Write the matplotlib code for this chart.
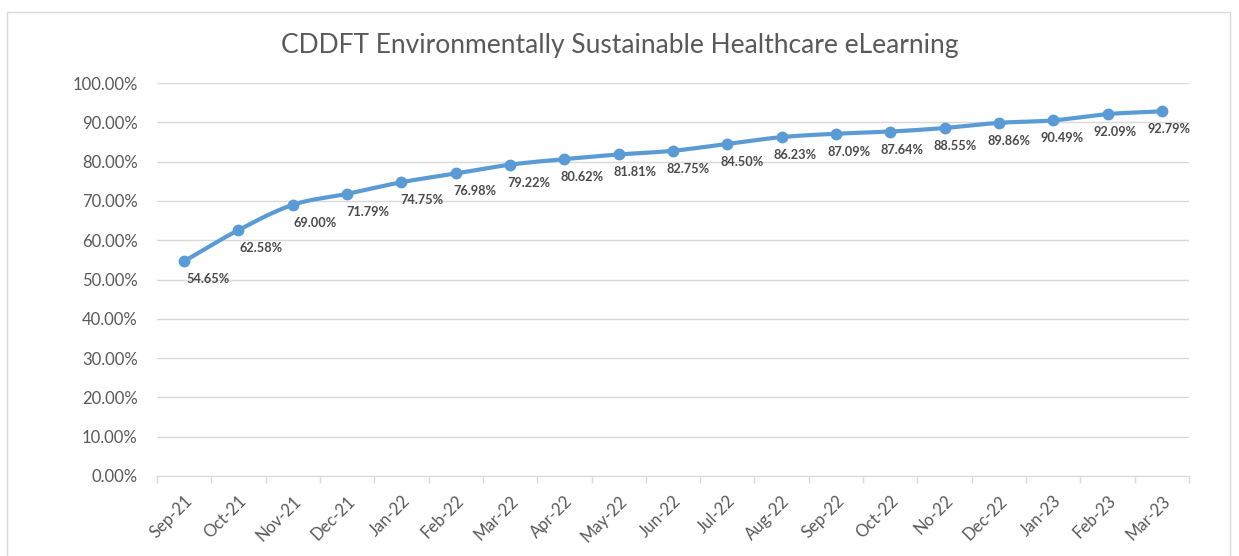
import matplotlib
matplotlib.use("Agg")
import matplotlib.pyplot as plt
import matplotlib.patches as patches
import numpy as np

# chart data
months = ["Sep-21", "Oct-21", "Nov-21", "Dec-21", "Jan-22", "Feb-22", "Mar-22",
          "Apr-22", "May-22", "Jun-22", "Jul-22", "Aug-22", "Sep-22", "Oct-22",
          "No-22", "Dec-22", "Jan-23", "Feb-23", "Mar-23"]
completion = [54.65, 62.58, 69.00, 71.79, 74.75, 76.98, 79.22, 80.62, 81.81,
              82.75, 84.50, 86.23, 87.09, 87.64, 88.55, 89.86, 90.49, 92.09, 92.79]
y_ticks = [0, 10, 20, 30, 40, 50, 60, 70, 80, 90, 100]
title = "CDDFT Environmentally Sustainable Healthcare eLearning"

line_color = "#5B9BD5"
text_color = "#595959"
grid_color = "#D9D9D9"

plt.rcParams["font.family"] = ["Lato", "DejaVu Sans"]


def smooth(xs, ys, steps=24):
    # catmull-rom through the points, close to excel's smoothed line
    xs = np.asarray(xs, float)
    ys = np.asarray(ys, float)
    px = np.concatenate([[2 * xs[0] - xs[1]], xs, [2 * xs[-1] - xs[-2]]])
    py = np.concatenate([[2 * ys[0] - ys[1]], ys, [2 * ys[-1] - ys[-2]]])
    out_x, out_y = [], []
    t = np.linspace(0, 1, steps, endpoint=False)
    for i in range(1, len(px) - 2):
        for arr, out in ((px, out_x), (py, out_y)):
            p0, p1, p2, p3 = arr[i - 1], arr[i], arr[i + 1], arr[i + 2]
            out.extend(0.5 * ((2 * p1) + (-p0 + p2) * t
                              + (2 * p0 - 5 * p1 + 4 * p2 - p3) * t ** 2
                              + (-p0 + 3 * p1 - 3 * p2 + p3) * t ** 3))
    out_x.append(xs[-1])
    out_y.append(ys[-1])
    return np.array(out_x), np.array(out_y)


fig = plt.figure(figsize=(12.39, 5.56), dpi=100)
fig.patch.set_facecolor("white")

# chart border like the excel chart area
fig.add_artist(patches.Rectangle((7 / 1239, -0.05), 1223 / 1239, 1 - 12 / 556 + 0.05,
                                 transform=fig.transFigure, fill=False,
                                 edgecolor=grid_color, linewidth=1))

ax = fig.add_axes([157 / 1239, 1 - 476 / 556, 1032 / 1239, 393 / 556])

x = np.arange(len(months))
sx, sy = smooth(x, completion)
ax.plot(sx, sy, color=line_color, linewidth=3, solid_capstyle="round", zorder=3)
ax.plot(x, completion, "o", color=line_color, markersize=7.5, zorder=4)

n = len(months)
for i, v in enumerate(completion):
    dx = 24 - 17 * i / (n - 1)
    ax.annotate(f"{v:.2f}%", (i, v), xytext=(dx, -12), textcoords="offset pixels",
                ha="center", va="top", fontsize=9.2, fontweight="bold",
                color="#4a4a4a", zorder=5)

ax.set_xlim(-0.5, n - 0.5)
ax.set_ylim(0, 100)
ax.set_yticks(y_ticks)
ax.set_yticklabels([f"{v:.2f}%" for v in y_ticks], color=text_color, fontsize=12)
ax.yaxis.grid(True, color=grid_color, linewidth=1)
ax.set_axisbelow(True)

# category axis: labels centred, tick marks between categories
ax.set_xticks(x)
ax.set_xticklabels(months, rotation=45, ha="right", rotation_mode="anchor",
                   color=text_color, fontsize=12)
ax.set_xticks(np.arange(-0.5, n, 1), minor=True)
ax.tick_params(axis="x", which="major", length=0, pad=12)
ax.tick_params(axis="x", which="minor", length=5, color=grid_color, width=1)
ax.tick_params(axis="y", length=0, pad=14)

for side in ("top", "right", "left"):
    ax.spines[side].set_visible(False)
ax.spines["bottom"].set_color(grid_color)

fig.text(0.5, 1 - 46 / 556, title, ha="center", va="center",
         fontsize=19, color=text_color)

fig.savefig("out.png", dpi=100, facecolor="white")
